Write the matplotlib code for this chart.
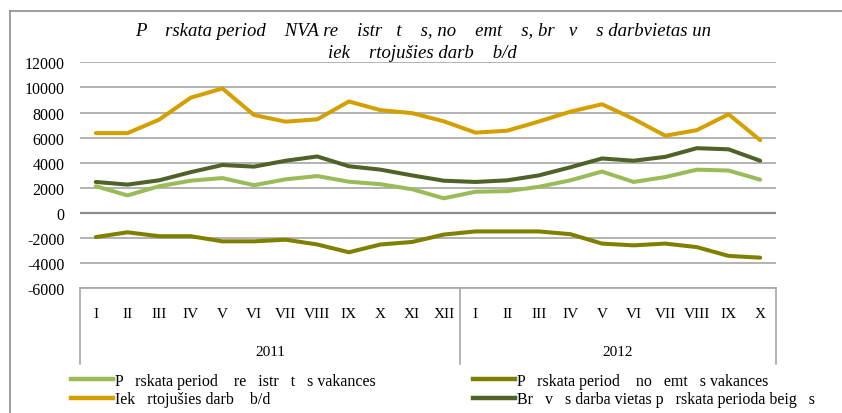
import numpy as np
import matplotlib
matplotlib.use("Agg")
import matplotlib.pyplot as plt
import matplotlib.transforms as mtransforms
from matplotlib.lines import Line2D

plt.rcParams['font.family'] = ['Liberation Serif', 'DejaVu Serif']
plt.rcParams['axes.unicode_minus'] = False

# months of 2011 (I..XII) and 2012 (I..X)
months = ['I', 'II', 'III', 'IV', 'V', 'VI', 'VII', 'VIII', 'IX', 'X', 'XI', 'XII',
          'I', 'II', 'III', 'IV', 'V', 'VI', 'VII', 'VIII', 'IX', 'X']
years = ['2011', '2012']
year_len = [12, 10]

registered = [2130, 1400, 2130, 2570, 2780, 2210, 2680, 2940, 2490, 2290, 1890, 1170,
              1690, 1740, 2080, 2600, 3300, 2470, 2860, 3450, 3380, 2650]
removed = [-1920, -1540, -1850, -1850, -2260, -2260, -2130, -2510, -3130, -2510, -2310, -1720,
           -1470, -1470, -1470, -1690, -2440, -2580, -2440, -2720, -3420, -3560]
employed = [6360, 6360, 7430, 9180, 9920, 7800, 7270, 7460, 8880, 8190, 7950, 7300,
            6400, 6550, 7280, 8070, 8660, 7490, 6150, 6600, 7860, 5800]
free_end = [2470, 2260, 2600, 3250, 3820, 3690, 4160, 4500, 3720, 3450, 2990, 2570,
            2470, 2600, 2990, 3640, 4340, 4160, 4470, 5160, 5070, 4160]

title = ("P    rskata period    NVA re    istr   t    s, no    emt    s, br   v    s darbvietas un\n"
         "iek    rtojušies darb    b/d")
lbl_registered = "P   rskata period    re   istr   t   s vakances"
lbl_removed = "P   rskata period    no   emt   s vakances"
lbl_employed = "Iek   rtojušies darb    b/d"
lbl_free = "Br   v   s darba vietas p   rskata perioda beig   s"

c_registered = '#9BBB59'
c_removed = '#808000'
c_employed = '#D4A000'
c_free = '#4F6228'

fig = plt.figure(figsize=(8.42, 4.14), dpi=100)
W, H = 842, 414
ax = fig.add_axes([80 / W, 1 - 289.3 / H, (776 - 80) / W, (289.3 - 63.3) / H])

x = np.arange(len(months))
lw = 2.9
ax.plot(x, registered, color=c_registered, lw=lw, solid_capstyle='round', zorder=3)
ax.plot(x, removed, color=c_removed, lw=lw, solid_capstyle='round', zorder=3)
ax.plot(x, employed, color=c_employed, lw=lw, solid_capstyle='round', zorder=3)
ax.plot(x, free_end, color=c_free, lw=lw, solid_capstyle='round', zorder=3)

ax.set_xlim(-0.5, len(months) - 0.5)
ax.set_ylim(-6000, 12000)
ax.set_yticks(np.arange(-6000, 12001, 2000))
ax.yaxis.grid(True, color='#A6A6A6', lw=1.2)
ax.axhline(0, color='#8C8C8C', lw=1.6, zorder=2)
ax.set_axisbelow(True)
for s in ['left', 'right', 'top']:
    ax.spines[s].set_visible(False)
ax.spines['bottom'].set_color('#A6A6A6')
ax.spines['bottom'].set_linewidth(1.2)
ax.tick_params(axis='y', length=0, pad=11, labelsize=11.5)
ax.set_xticks([])

# category axis: months and years under the plot
trans = mtransforms.blended_transform_factory(ax.transData, ax.transAxes)
box_h = (365 - 289.3) / (289.3 - 63.3)
for i, m in enumerate(months):
    ax.text(i, -0.11, m, transform=trans, ha='center', va='center', fontsize=11)
start = 0
bounds = [-0.5]
for yr, n in zip(years, year_len):
    ax.text(start + (n - 1) / 2, -0.28, yr, transform=trans, ha='center', va='center', fontsize=11)
    start += n
    bounds.append(start - 0.5)
for b in bounds:
    ax.plot([b, b], [0, -box_h], transform=trans, color='#A6A6A6', lw=1.2, clip_on=False)

fig.text(0.502, 1 - 42.5 / H, title, ha='center', va='center', style='italic',
         fontsize=13.5, linespacing=1.4)

handles = [Line2D([], [], color=c, lw=3.2) for c in [c_registered, c_employed, c_removed, c_free]]
labels = [lbl_registered, lbl_employed, lbl_removed, lbl_free]
fig.legend(handles, labels, ncol=2, frameon=False, loc='center left',
           bbox_to_anchor=(63 / W, 1 - 391 / H), fontsize=11.5, handlelength=2.6,
           handletextpad=0.15, columnspacing=6.1, labelspacing=0.18, borderpad=0)

# outer chart frame
fig.add_artist(Line2D([10 / W, 10 / W], [0, 1 - 12 / H], color='#8C8C8C', lw=1.2))
fig.add_artist(Line2D([10 / W, 1], [1 - 12 / H, 1 - 12 / H], color='#8C8C8C', lw=1.2))

fig.savefig('out.png', dpi=100)
